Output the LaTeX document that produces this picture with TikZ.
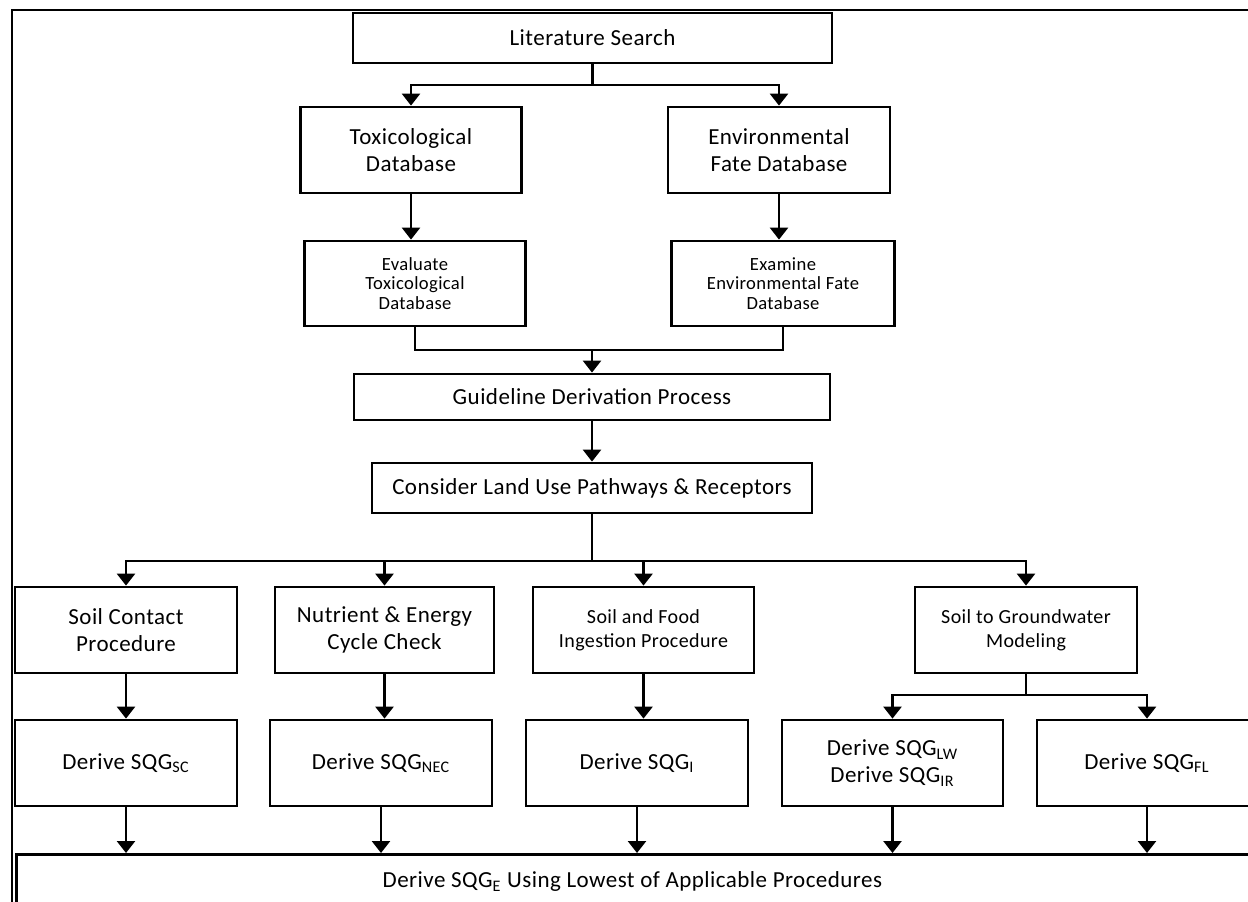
\documentclass[tikz,border=0pt]{standalone}
\usepackage{fontspec}
\setmainfont{Carlito}[LetterSpace=2]
\usetikzlibrary{arrows.meta}

\begin{document}
\begin{tikzpicture}[x=0.5pt,y=-0.5pt,
    box/.style={draw,line width=1.4pt,align=center,inner sep=2pt,font=\fontsize{11.5}{13.5}\selectfont},
    smallbox/.style={box,font=\fontsize{9.3}{9.8}\selectfont},
    midbox/.style={box,font=\fontsize{10}{12}\selectfont},
    arr/.style={line width=1.3pt,-{Triangle[width=9pt,length=6pt]}},
    link/.style={line width=1.3pt}]
  \useasboundingbox (0,0) rectangle (1248,901);
  \clip (0,0) rectangle (1248,901);
  % page frame
  \draw[line width=1.2pt] (12,915) -- (12,10) -- (1260,10);

  \node[box,minimum width=239.5pt,minimum height=25pt](lit) at (592.5,38) {Literature Search};
  \node[box,minimum width=110.5pt,minimum height=43pt](tox) at (411,150) {Toxicological\\Database};
  \node[box,minimum width=111pt,minimum height=43pt](env) at (779,150) {Environmental\\Fate Database};
  \node[smallbox,minimum width=110.5pt,minimum height=42.5pt](evtox) at (415,283.5) {Evaluate\\Toxicological\\Database};
  \node[smallbox,minimum width=111.5pt,minimum height=42.5pt](exenv) at (783,283.5) {Examine\\Environmental Fate\\Database};
  \node[box,minimum width=238pt,minimum height=23pt](guide) at (592,397) {Guideline Derivation Process};
  \node[box,minimum width=220pt,minimum height=25pt](land) at (592,488) {Consider Land Use Pathways \& Receptors};

  % procedures
  \node[box,minimum width=111pt,minimum height=43pt](soilc) at (126,630) {Soil Contact\\Procedure};
  \node[box,minimum width=109.5pt,minimum height=43pt](nutr) at (384.5,630) {Nutrient \& Energy\\Cycle Check};
  \node[midbox,minimum width=110.5pt,minimum height=43pt](food) at (643.5,630) {Soil and Food\\Ingestion Procedure};
  \node[midbox,minimum width=111pt,minimum height=43pt](gw) at (1026,630) {Soil to Groundwater\\Modeling};

  % guideline values
  \node[box,minimum width=111pt,minimum height=43pt](dsc) at (126,763) {Derive SQG\textsubscript{SC}};
  \node[box,minimum width=111pt,minimum height=43pt](dnec) at (381,763) {Derive SQG\textsubscript{NEC}};
  \node[box,minimum width=111pt,minimum height=43pt](di) at (637,763) {Derive SQG\textsubscript{I}};
  \node[box,minimum width=110.5pt,minimum height=43pt](dlw) at (892.5,763) {Derive SQG\textsubscript{LW}\\Derive SQG\textsubscript{IR}};
  \node[box,minimum width=110pt,minimum height=43pt](dfl) at (1147,763) {Derive SQG\textsubscript{FL}};

  \node[box,anchor=north west,inner sep=0pt,minimum width=650pt,minimum height=27pt](final) at (15,853)
    {\hspace*{-34pt}Derive SQG\textsubscript{E} Using Lowest of Applicable Procedures};

  \coordinate (b1) at (592.5,85);
  \draw[link] (lit) -- (b1);
  \draw[arr] (b1) -| (tox);
  \draw[arr] (b1) -| (env);
  \draw[arr] (tox) -- (tox |- evtox.north);
  \draw[arr] (env) -- (env |- exenv.north);

  \coordinate (m1) at (592,350);
  \draw[link] (evtox) |- (m1) -| (exenv);
  \draw[arr] (m1) -- (guide);
  \draw[arr] (guide) -- (land);

  \coordinate (b2) at (592,561);
  \draw[link] (land) -- (b2);
  \foreach \n in {soilc,nutr,food,gw}
    \draw[arr] (b2) -| (\n);
  \draw[arr] (soilc) -- (dsc);
  \draw[arr] (nutr) -- (nutr |- dnec.north);
  \draw[arr] (food) -- (food |- di.north);

  \coordinate (b3) at (1026,695);
  \draw[link] (gw) -- (b3);
  \draw[arr] (b3) -| (dlw);
  \draw[arr] (b3) -| (dfl);

  \foreach \n in {dsc,dnec,di,dlw,dfl}
    \draw[arr] (\n) -- (\n |- final.north);
\end{tikzpicture}
\end{document}
